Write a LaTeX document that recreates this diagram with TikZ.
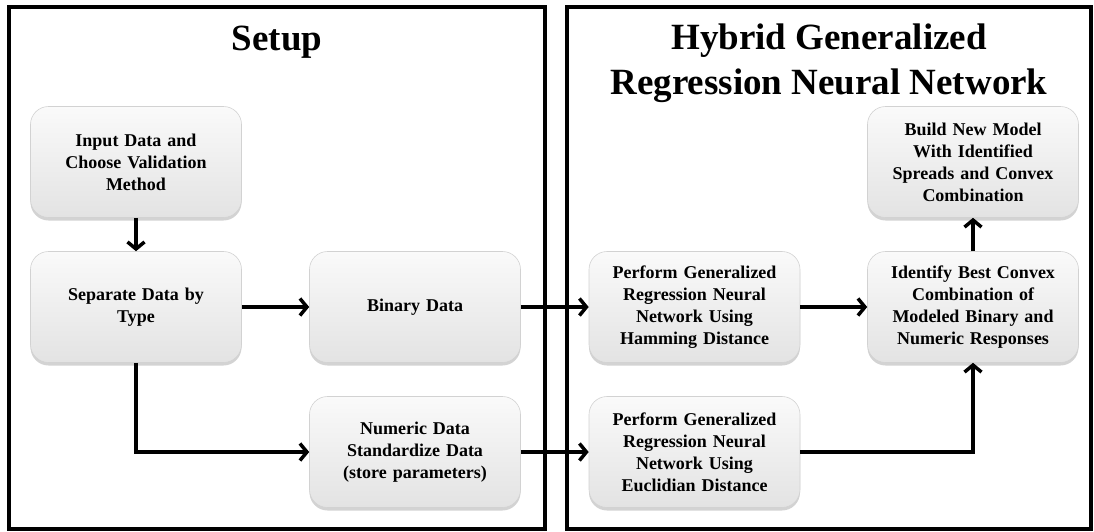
\documentclass[tikz,border=0pt]{standalone}
\usepackage{fontspec}
\setmainfont{Liberation Serif}
\usetikzlibrary{arrows.meta, shadows}

\begin{document}
\begin{tikzpicture}[x=1pt, y=-1pt,
    frame/.style={draw=black, line width=3.5pt},
    heading/.style={font=\fontsize{37}{45}\selectfont\bfseries, align=center, inner sep=0pt},
    stepbox/.style={draw=gray!35, line width=0.6pt, rounded corners=18pt,
        top color=gray!4, bottom color=gray!22, middle color=gray!13,
        drop shadow={shadow xshift=0pt, shadow yshift=-3pt, opacity=0.35, fill=gray},
        minimum width=211pt, minimum height=111pt, text width=204pt, align=center,
        inner sep=0pt, font=\fontsize{18}{22}\selectfont\bfseries},
    flow/.style={draw=black, line width=3.5pt, -{Straight Barb[length=7pt, width=17pt]}}]
        \useasboundingbox (0,0) rectangle (1094,531);

        \draw[frame] (9,7) rectangle (545,529);
        \draw[frame] (567,7) rectangle (1091,529);

        \node[heading, anchor=base] (setup) at (277,50) {Setup};
        \node[heading] (hybrid) at (829,63) {Hybrid Generalized\\Regression Neural Network};

        \node[stepbox] (input) at (136,162) {Input Data and\\Choose Validation\\Method};
        \node[stepbox] (separate) at (136,307) {Separate Data by\\Type};
        \node[stepbox] (binary) at (415,307) {Binary Data};
        \node[stepbox] (numeric) at (415,452) {Numeric Data\\Standardize Data\\(store parameters)};

        \node[stepbox] (hamming) at (694.5,307) {Perform Generalized\\Regression Neural\\Network Using\\Hamming Distance};
        \node[stepbox] (euclid) at (694.5,452) {Perform Generalized\\Regression Neural\\Network Using\\Euclidian Distance};
        \node[stepbox] (combine) at (973,307) {Identify Best Convex\\Combination of\\Modeled Binary and\\Numeric Responses};
        \node[stepbox] (build) at (973,162) {Build New Model\\With Identified\\Spreads and Convex\\Combination};

        \draw[flow] (input) -- (separate);
        \draw[flow] (separate) -- (binary);
        \draw[flow] (separate) |- (numeric);
        \draw[flow] (binary) -- (hamming);
        \draw[flow] (numeric) -- (euclid);
        \draw[flow] (hamming) -- (combine);
        \draw[flow] (euclid) -| (combine);
        \draw[flow] (combine) -- (build);
    \end{tikzpicture}
\end{document}
